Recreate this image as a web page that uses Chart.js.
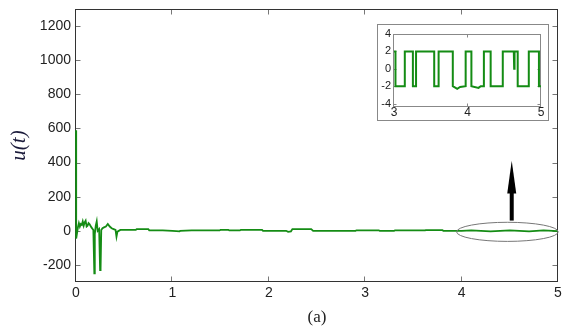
<!DOCTYPE html>
<html>
<head>
<meta charset="utf-8">
<script src="https://cdn.jsdelivr.net/npm/chart.js@4"></script>
<style>
  body { margin: 0; background: #fff; }
  #wrap { position: relative; width: 562px; height: 327px; }
  #main { position: absolute; left: 0; top: 0; }
  #zoom { position: absolute; left: 377px; top: 24px; }
</style>
</head>
<body>
<div id="wrap">
  <canvas id="main" width="562" height="327"></canvas>
  <canvas id="zoom" width="172" height="97"></canvas>
</div>
<script>
// control signal u(t), full run
var mainT = [0, 0.002, 0.02, 0.03, 0.04, 0.05, 0.06, 0.07, 0.08, 0.09, 0.10, 0.11, 0.12, 0.13, 0.14, 0.16, 0.18,
  0.19, 0.195, 0.205, 0.215, 0.225, 0.24, 0.25, 0.255, 0.262, 0.275, 0.29, 0.31, 0.33, 0.35, 0.37, 0.39,
  0.41, 0.42, 0.43, 0.46,
  0.5, 0.62, 0.63, 0.75, 0.76, 0.9, 1.0, 1.075, 1.08, 1.2, 1.49, 1.5, 1.58, 1.59, 1.7, 1.71, 1.93, 1.94,
  2.18, 2.2, 2.23, 2.245, 2.44, 2.46, 2.9, 2.91, 3.14, 3.15, 3.3, 3.31, 3.49, 3.5, 3.62, 3.63, 3.8, 3.81,
  4.0, 4.1, 4.3, 4.5, 4.7, 4.85, 5.0];
var mainU = [590, -45, 20, 45, 25, 40, 35, 55, 30, 50, 60, 25, 30, 45, 40, 20, 5,
  -250, -20, 30, 55, 0, 10, -230, -225, 5, 15, 20, 25, 40, 25, 15, 10,
  5, -35, -5, 5,
  5, 5, 10, 10, 3, 3, 0, -3, 0, 2, 2, 6, 6, 2, 2, 6, 6, 0,
  0, -6, -3, 10, 10, 0, 0, 3, 3, 0, 0, 3, 3, 2, 2, 4, 4, 0,
  0, 3, -3, 3, -3, 3, -2];

// zoomed window 3 <= t <= 5
var zoomT = [3, 3.02, 3.02, 3.147, 3.147, 3.257, 3.257, 3.30, 3.30, 3.547, 3.547, 3.607, 3.607,
  3.80, 3.80, 3.86, 3.90, 3.975, 3.975, 4.053, 4.053, 4.15, 4.18, 4.223, 4.223, 4.315, 4.315,
  4.48, 4.48, 4.63, 4.635, 4.64, 4.683, 4.683, 4.834, 4.834, 4.972, 4.972, 5];
var zoomU = [2, 2, -2, -2, 2, 2, -2, -2, 2, 2, -2, -2, 2,
  2, -2, -2.3, -2.1, -2, 2, 2, -2, -2.2, -2, -2, 2, 2, -2,
  -2, 2, 2, 0, 2, 2, -2, -2, 2, 2, -2, -2];

var xTicks = [0, 1, 2, 3, 4, 5];
var yTicks = [-200, 0, 200, 400, 600, 800, 1000, 1200];
var zoomXTicks = [3, 4, 5];
var zoomYTicks = [-4, -2, 0, 2, 4];

// ellipse around the tail and the arrow pointing at the inset (data units)
var ringCenter = [4.475, -6], ringRadius = [0.527, 56];
var arrowAt = 4.52, arrowFrom = 60, arrowTo = 410, arrowHead = 225;

var green = '#148c14';
Chart.defaults.font.family = '"Liberation Sans", Arial, sans-serif';
Chart.defaults.color = '#222';

function points(ts, us) {
  return ts.map(function (t, i) { return {x: t, y: us[i]}; });
}
function plain(v) { return String(v); }

// axes box with inward ticks on all four sides
var frameTicks = {
  id: 'frameTicks',
  beforeDraw: function (chart, args, o) {
    if (!o.frame) return;
    var ctx = chart.ctx;
    ctx.save();
    ctx.fillStyle = '#fff';
    ctx.fillRect(0, 0, chart.width, chart.height);
    ctx.strokeStyle = o.frame;
    ctx.strokeRect(0.5, 0.5, chart.width - 1, chart.height - 1);
    ctx.restore();
  },
  beforeDatasetsDraw: function (chart, args, o) {
    var ctx = chart.ctx, a = chart.chartArea, sx = chart.scales.x, sy = chart.scales.y;
    var l = Math.round(a.left) - 0.5, r = Math.round(a.right) - 0.5;
    var t = Math.round(a.top) + 0.5, b = Math.round(a.bottom) - 0.5;
    ctx.save();
    ctx.lineWidth = 1;
    ctx.strokeStyle = o.tickColor;
    ctx.beginPath();
    sx.ticks.forEach(function (tk) {
      var p = Math.round(sx.getPixelForValue(tk.value)) - 0.5;
      ctx.moveTo(p, b); ctx.lineTo(p, b - o.len);
      ctx.moveTo(p, t); ctx.lineTo(p, t + o.len);
    });
    sy.ticks.forEach(function (tk) {
      var p = Math.round(sy.getPixelForValue(tk.value)) + 0.5;
      ctx.moveTo(l, p); ctx.lineTo(l + o.len, p);
      ctx.moveTo(r, p); ctx.lineTo(r - o.len, p);
    });
    ctx.stroke();
    ctx.strokeStyle = o.boxColor;
    ctx.strokeRect(l, t, r - l, b - t);
    ctx.restore();
  }
};

// gray ellipse and black arrow on the main axes
var callout = {
  id: 'callout',
  afterDatasetsDraw: function (chart) {
    var ctx = chart.ctx, sx = chart.scales.x, sy = chart.scales.y;
    var cx = sx.getPixelForValue(ringCenter[0]), cy = sy.getPixelForValue(ringCenter[1]);
    var rx = sx.getPixelForValue(ringCenter[0] + ringRadius[0]) - cx;
    var ry = cy - sy.getPixelForValue(ringCenter[1] + ringRadius[1]);
    ctx.save();
    ctx.strokeStyle = '#777';
    ctx.lineWidth = 1;
    ctx.beginPath();
    ctx.ellipse(cx, cy, rx, ry, 0, 0, Math.PI * 2);
    ctx.stroke();

    var ax = sx.getPixelForValue(arrowAt);
    var y0 = sy.getPixelForValue(arrowFrom), y1 = sy.getPixelForValue(arrowTo);
    var yh = sy.getPixelForValue(arrowHead);
    ctx.fillStyle = '#000';
    ctx.fillRect(ax - 2, yh, 4, y0 - yh);
    ctx.beginPath();
    ctx.moveTo(ax, y1);
    ctx.lineTo(ax + 4.5, yh + 1);
    ctx.lineTo(ax - 4.5, yh + 1);
    ctx.closePath();
    ctx.fill();
    ctx.restore();
  }
};

function fixedTicks(vals) {
  return function (s) { s.ticks = vals.map(function (v) { return {value: v}; }); };
}
function fixWidth(w) {
  return function (s) { s.width = w; s.paddingTop = 0; s.paddingBottom = 0; };
}
function fixHeight(h) {
  return function (s) { s.height = h; s.paddingLeft = 0; s.paddingRight = 0; };
}

new Chart(document.getElementById('main'), {
  type: 'line',
  data: {
    datasets: [{
      data: points(mainT, mainU),
      borderColor: green,
      borderWidth: 1.8,
      pointRadius: 0,
      tension: 0,
      clip: 3
    }]
  },
  options: {
    responsive: false,
    animation: false,
    events: [],
    layout: {padding: {top: 9, right: 4, left: 0, bottom: 0}},
    plugins: {
      legend: {display: false},
      tooltip: {enabled: false},
      frameTicks: {len: 5, tickColor: '#777', boxColor: '#333'}
    },
    scales: {
      x: {
        type: 'linear', min: 0, max: 5,
        grid: {display: false, drawTicks: false},
        border: {display: false},
        afterBuildTicks: fixedTicks(xTicks),
        afterFit: fixHeight(45),
        ticks: {font: {size: 14}, padding: 3, maxRotation: 0, color: '#222', callback: plain},
        title: {
          display: true, text: '(a)', color: '#222',
          font: {family: '"Liberation Serif", "Times New Roman", serif', size: 17, lineHeight: 1.1},
          padding: {top: 0, bottom: 0}
        }
      },
      y: {
        type: 'linear', min: -300, max: 1300,
        grid: {display: false, drawTicks: false},
        border: {display: false},
        afterBuildTicks: fixedTicks(yTicks),
        afterFit: fixWidth(76),
        ticks: {font: {size: 14}, padding: 5, color: '#222', callback: plain},
        title: {
          display: true, text: 'u(t)', color: '#1a1a3a',
          font: {family: '"Liberation Serif", "Times New Roman", serif', size: 21, style: 'italic', lineHeight: 1.2},
          padding: {top: 7, bottom: 0}
        }
      }
    }
  },
  plugins: [frameTicks, callout]
});

new Chart(document.getElementById('zoom'), {
  type: 'line',
  data: {
    datasets: [{
      data: points(zoomT, zoomU),
      borderColor: green,
      borderWidth: 2,
      pointRadius: 0,
      tension: 0,
      clip: 2
    }]
  },
  options: {
    responsive: false,
    animation: false,
    events: [],
    layout: {padding: {top: 10, right: 8, left: 0, bottom: 0}},
    plugins: {
      legend: {display: false},
      tooltip: {enabled: false},
      frameTicks: {len: 3, tickColor: '#888', boxColor: '#888', frame: '#888'}
    },
    scales: {
      x: {
        type: 'linear', min: 3, max: 5,
        grid: {display: false, drawTicks: false},
        border: {display: false},
        afterBuildTicks: fixedTicks(zoomXTicks),
        afterFit: fixHeight(14),
        ticks: {font: {size: 12, lineHeight: 1}, padding: 0, maxRotation: 0, color: '#222', callback: plain}
      },
      y: {
        type: 'linear', min: -4.4, max: 4,
        grid: {display: false, drawTicks: false},
        border: {display: false},
        afterBuildTicks: fixedTicks(zoomYTicks),
        afterFit: fixWidth(17),
        ticks: {font: {size: 11}, padding: 3, color: '#222', callback: plain}
      }
    }
  },
  plugins: [frameTicks]
});
</script>
</body>
</html>
